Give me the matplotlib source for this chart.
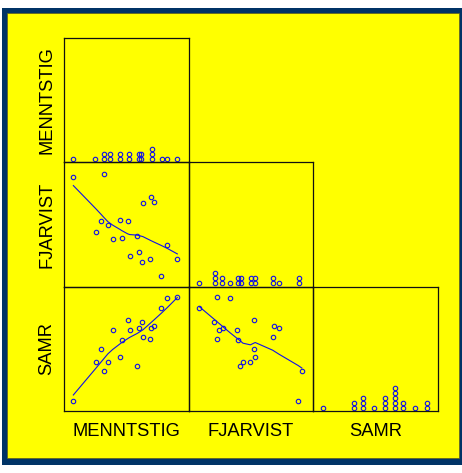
import numpy as np
import matplotlib
matplotlib.use("Agg")
import matplotlib.pyplot as plt
from matplotlib.patches import Rectangle
from matplotlib.transforms import blended_transform_factory

plt.rcParams['font.family'] = ['Liberation Sans', 'DejaVu Sans']

# ---------------- data ----------------
variables = ["MENNTSTIG", "FJARVIST", "SAMR"]

menntstig = [7.5, 25.5, 29.6, 31.7, 35.2, 39.0, 45.2, 46.2, 51.1, 52.7,
             58.6, 60.2, 62.8, 63.4, 68.8, 69.4, 72.0, 78.2, 82.8, 90.9]
fjarvist = [87.9, 43.6, 52.7, 90.8, 49.5, 38.6, 53.4, 39.5, 52.7, 24.7,
            41.0, 27.8, 20.0, 67.6, 22.4, 72.4, 68.2, 8.4, 33.2, 22.5]
samr = [8.1, 39.5, 50.0, 32.0, 39.5, 64.8, 43.5, 56.7, 73.4, 64.8,
        35.8, 66.4, 71.5, 59.9, 57.8, 66.4, 68.3, 82.8, 90.6, 91.4]

# values as shown (stacked) in the diagonal dot plots
menntstig_dots = [7.5, 25.0, 31.7, 31.7, 36.6, 36.6, 45.2, 45.2, 52.2, 52.2,
                  59.9, 59.9, 62.1, 62.1, 70.7, 70.7, 70.7, 78.8, 82.8, 90.3]
fjarvist_dots = [8.3, 21.1, 21.1, 21.1, 26.4, 26.4, 33.1, 39.7, 39.7, 41.9,
                 41.9, 50.1, 50.1, 53.1, 53.1, 67.7, 67.7, 72.3, 88.5, 88.5]
samr_dots = [7.7, 32.5, 32.5, 40.0, 40.0, 40.0, 48.8, 57.6, 57.6, 57.6,
             65.3, 65.3, 65.3, 65.3, 65.3, 72.0, 72.0, 81.6, 90.9, 90.9]

data = [np.array(menntstig), np.array(fjarvist), np.array(samr)]
dots = [menntstig_dots, fjarvist_dots, samr_dots]
limits = (0, 100)


def lowess(x, y, f=0.8, iters=1):
    order = np.argsort(x, kind='stable')
    x = np.asarray(x, float)[order]
    y = np.asarray(y, float)[order]
    n = len(x)
    r = max(min(int(f * n + 1e-7), n), 2)
    rob = np.ones(n)
    fit = np.zeros(n)
    for it in range(iters + 1):
        for i in range(n):
            d = np.abs(x - x[i])
            h = np.sort(d)[r - 1]
            u = np.clip(d / max(h, 1e-12), 0, 1)
            w = (1 - u ** 3) ** 3 * rob
            sw = w.sum()
            xm = (w * x).sum() / sw
            ym = (w * y).sum() / sw
            sxx = (w * (x - xm) ** 2).sum()
            b = (w * (x - xm) * (y - ym)).sum() / sxx if sxx > 1e-12 else 0.0
            fit[i] = ym + b * (x[i] - xm)
        res = y - fit
        s = np.median(np.abs(res))
        if s == 0:
            break
        u = np.clip(res / (6 * s), -1, 1)
        rob = (1 - u ** 2) ** 2
    return x, fit


# ---------------- layout ----------------
W, H = 462, 473
fig = plt.figure(figsize=(W / 100, H / 100), dpi=100, facecolor='white')

fig.patches.append(Rectangle((2 / W, 1 - 465 / H), 460 / W, 457 / H,
                             transform=fig.transFigure, facecolor='#003366',
                             edgecolor='none', zorder=-10))
fig.patches.append(Rectangle((7 / W, 1 - 458 / H), 452 / W, 445 / H,
                             transform=fig.transFigure, facecolor='#ffff00',
                             edgecolor='#5a5a20', linewidth=0.5, zorder=-9))

x0, y0 = 64, 38
sx, sy = 124.67, 124.33
blue = '#1010e8'

for r in range(3):
    for c in range(r + 1):
        left = (x0 + c * sx) / W
        bottom = 1 - (y0 + (r + 1) * sy) / H
        ax = fig.add_axes([left, bottom, sx / W, sy / H])
        ax.set_facecolor('none')
        ax.set_xlim(*limits)
        ax.set_ylim(*limits)
        ax.set_xticks([])
        ax.set_yticks([])
        for sp in ax.spines.values():
            sp.set_color('#111111')
            sp.set_linewidth(0.9)
        if r == c:
            trans = blended_transform_factory(ax.transData, ax.transAxes)
            counts = {}
            xs, ys = [], []
            for v in dots[c]:
                k = counts.get(v, 0)
                counts[v] = k + 1
                xs.append(v)
                ys.append((3.3 + 5 * k) / sy)
            ax.plot(xs, ys, linestyle='none', marker='o', markersize=3.2,
                    markerfacecolor='none', markeredgecolor=blue,
                    markeredgewidth=0.8, transform=trans, clip_on=False)
        else:
            xv = data[c]
            yv = data[r]
            ax.plot(xv, yv, linestyle='none', marker='o', markersize=3.2,
                    markerfacecolor='none', markeredgecolor=blue,
                    markeredgewidth=0.8)
            lx, ly = lowess(xv, yv)
            ax.plot(lx, ly, color=blue, linewidth=0.8)

for i, name in enumerate(variables):
    fig.text(47 / W, 1 - (y0 + (i + 0.5) * sy) / H, name, rotation=90,
             ha='center', va='center', fontsize=13.2, color='black')
    fig.text((x0 + (i + 0.5) * sx) / W, 1 - 431.5 / H, name,
             ha='center', va='center', fontsize=13.2, color='black')

fig.savefig('out.png', dpi=100, facecolor='white')
